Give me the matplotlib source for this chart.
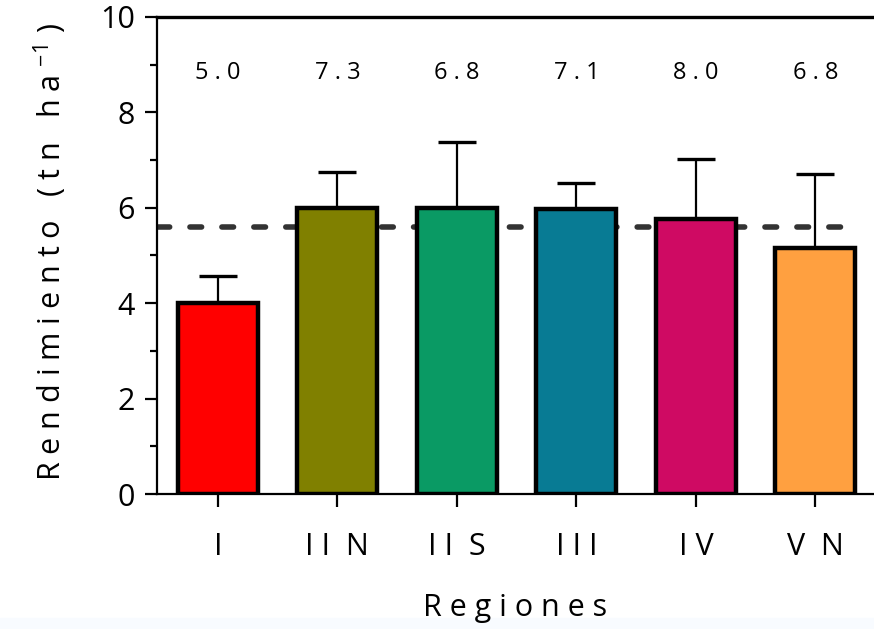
import numpy as np
import matplotlib.pyplot as plt
from matplotlib.patches import Rectangle

plt.rcParams['font.family'] = ['Open Sans', 'DejaVu Sans']
plt.rcParams['mathtext.fontset'] = 'custom'
plt.rcParams['mathtext.rm'] = 'Open Sans'
plt.rcParams['lines.scale_dashes'] = False

# datos
regiones = ['I', 'I I  N', 'I I  S', 'I I I', 'I V', 'V  N']
rendimiento = [4.0, 6.0, 6.0, 5.97, 5.76, 5.16]
desvio = [0.58, 0.76, 1.37, 0.56, 1.26, 1.55]
potencial = ['5.0', '7.3', '6.8', '7.1', '8.0', '6.8']
promedio = 5.59
colores = ['#ff0000', '#808000', '#0a9a64', '#087b94', '#cf0a63', '#ffa040']

fig = plt.figure(figsize=(8.74, 6.29), dpi=100)
fig.patches.append(Rectangle((0, 0), 1, 0.018, transform=fig.transFigure,
                             color='#f8fbff', zorder=0))
ax = fig.add_axes([0.1796, 0.2146, 0.8204, 0.7584])

x = np.arange(len(regiones))

# linea de promedio (detras de las barras)
ax.plot([-0.5, 5.35], [promedio, promedio], color='#333333', lw=4.0,
        dashes=(8.4, 14.6), dash_capstyle='round', zorder=1)

ax.errorbar(x, rendimiento, yerr=[np.zeros(len(x)), desvio], fmt='none',
            ecolor='black', elinewidth=1.6, capsize=14, capthick=2.4, zorder=2)
ax.bar(x, rendimiento, width=0.67, color=colores, edgecolor='black',
       linewidth=3.2, zorder=3)

for xi, t in zip(x, potencial):
    ax.text(xi, 8.83, ' '.join(t), ha='center', va='center', fontsize=17)

ax.set_xlim(-0.51, 5.49)
ax.set_ylim(0, 10)
ax.set_yticks([0, 2, 4, 6, 8, 10])
ax.set_yticks([1, 3, 5, 7, 9], minor=True)
ax.set_xticks(x)
ax.set_xticklabels(regiones)

ax.tick_params(axis='both', which='major', labelsize=22, width=1.6, length=9,
               direction='out')
ax.tick_params(axis='y', which='minor', width=1.6, length=5)
ax.tick_params(axis='y', pad=7)
ax.tick_params(axis='x', pad=18)

ax.spines['right'].set_visible(False)
ax.spines['left'].set_linewidth(1.6)
ax.spines['bottom'].set_linewidth(1.6)
ax.spines['top'].set_linewidth(2.4)

fig.text(0.058, 0.6, 'R e n d i m i e n t o   ( t n   h a $^{-1}$ )',
         rotation=90, ha='center', va='center', fontsize=22)
fig.text(0.589, 0.034, 'R e g i o n e s', ha='center', va='center',
         fontsize=22)

fig.savefig('out.png', dpi=100)
